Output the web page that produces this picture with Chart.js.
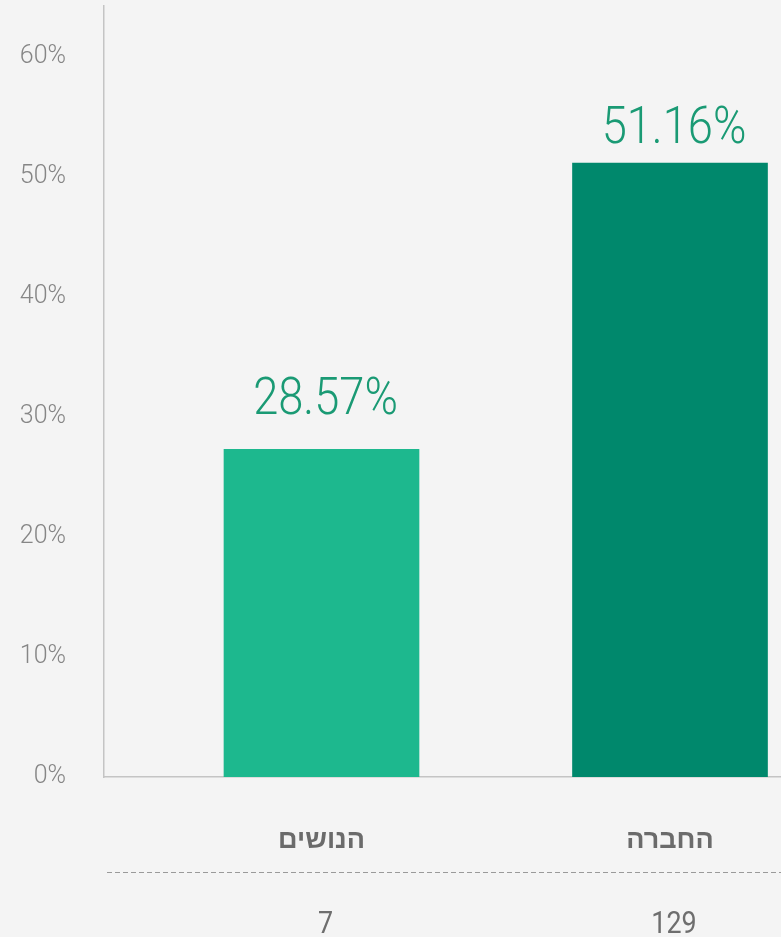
<!DOCTYPE html>
<html><head><meta charset="utf-8">
<script src="https://cdn.jsdelivr.net/npm/chart.js@4"></script>
<style>
html,body{margin:0;padding:0;background:#f4f4f4;overflow:hidden}
#wrap{width:781px;height:937px;position:relative}
</style></head>
<body><div id="wrap"><canvas id="c"></canvas></div>
<script>
const categories = ['הנושים', 'החברה'];
const shareValues = [27.3, 51.16];
const shareLabels = ['28.57%', '51.16%'];
const counts = ['7', '129'];
const yTicks = [0, 10, 20, 30, 40, 50, 60];
const barColors = ['#1db88e', '#00886c'];

const LIGHT = 'Roboto, "Liberation Sans", sans-serif';

function squeezedText(ctx, text, x, y, sx) {
  ctx.save();
  ctx.translate(x, y);
  ctx.scale(sx, 1);
  ctx.fillText(text, 0, 0);
  ctx.restore();
}

const textPlugin = {
  id: 'texts',
  afterDatasetsDraw(chart) {
    const ctx = chart.ctx;
    const meta = chart.getDatasetMeta(0);
    const y = chart.scales.y;
    ctx.save();
    ctx.textAlign = 'center';
    ctx.textBaseline = 'alphabetic';
    meta.data.forEach((bar, i) => {
      const x = bar.x + 4;
      // value label
      ctx.fillStyle = '#1a9a74';
      ctx.font = '300 52px ' + LIGHT;
      squeezedText(ctx, shareLabels[i], x, y.getPixelForValue(parseFloat(shareLabels[i])) - 20, 0.87);
      // category
      ctx.fillStyle = '#6b6b6b';
      ctx.font = 'bold 27px "Liberation Sans", "DejaVu Sans", sans-serif';
      ctx.fillText(categories[i], bar.x, 848);
      // count
      ctx.fillStyle = '#6e6e6e';
      ctx.font = '400 32px ' + LIGHT;
      squeezedText(ctx, counts[i], x, 933, 0.84);
    });
    // dashed separator
    ctx.strokeStyle = '#9a9a9a';
    ctx.lineWidth = 1;
    ctx.setLineDash([5, 3]);
    ctx.beginPath();
    ctx.moveTo(107, 872.5);
    ctx.lineTo(chart.width, 872.5);
    ctx.stroke();
    ctx.restore();
  }
};

new Chart(document.getElementById('c'), {
  type: 'bar',
  data: {
    datasets: [{
      data: shareValues.map((v, i) => ({ x: i + 1, y: v })),
      backgroundColor: barColors,
      borderWidth: 0,
      barThickness: 195
    }]
  },
  options: {
    responsive: true,
    maintainAspectRatio: false,
    animation: false,
    layout: { padding: { top: 6, left: 0, right: 0, bottom: 0 } },
    plugins: { legend: { display: false }, tooltip: { enabled: false } },
    scales: {
      x: {
        type: 'linear',
        min: 0.3759,
        max: 2.3185,
        offset: false,
        grid: { display: false, drawTicks: false },
        border: { display: true, color: '#c4c4c4', width: 1.5 },
        ticks: { display: false },
        afterFit(s) { s.height = 160; s.paddingLeft = 0; s.paddingRight = 0; }
      },
      y: {
        min: 0,
        max: 64.25,
        grid: { display: false, drawTicks: false },
        border: { display: true, color: '#c4c4c4', width: 1.5 },
        afterBuildTicks(s) { s.ticks = yTicks.map(v => ({ value: v })); },
        ticks: {
          padding: 38,
          color: '#868686',
          font: { family: LIGHT, size: 25, weight: '300' },
          callback: v => v + '%'
        },
        afterFit(s) { s.width = 104; s.paddingTop = 0; s.paddingBottom = 0; }
      }
    }
  },
  plugins: [textPlugin]
});
</script>
</body></html>
